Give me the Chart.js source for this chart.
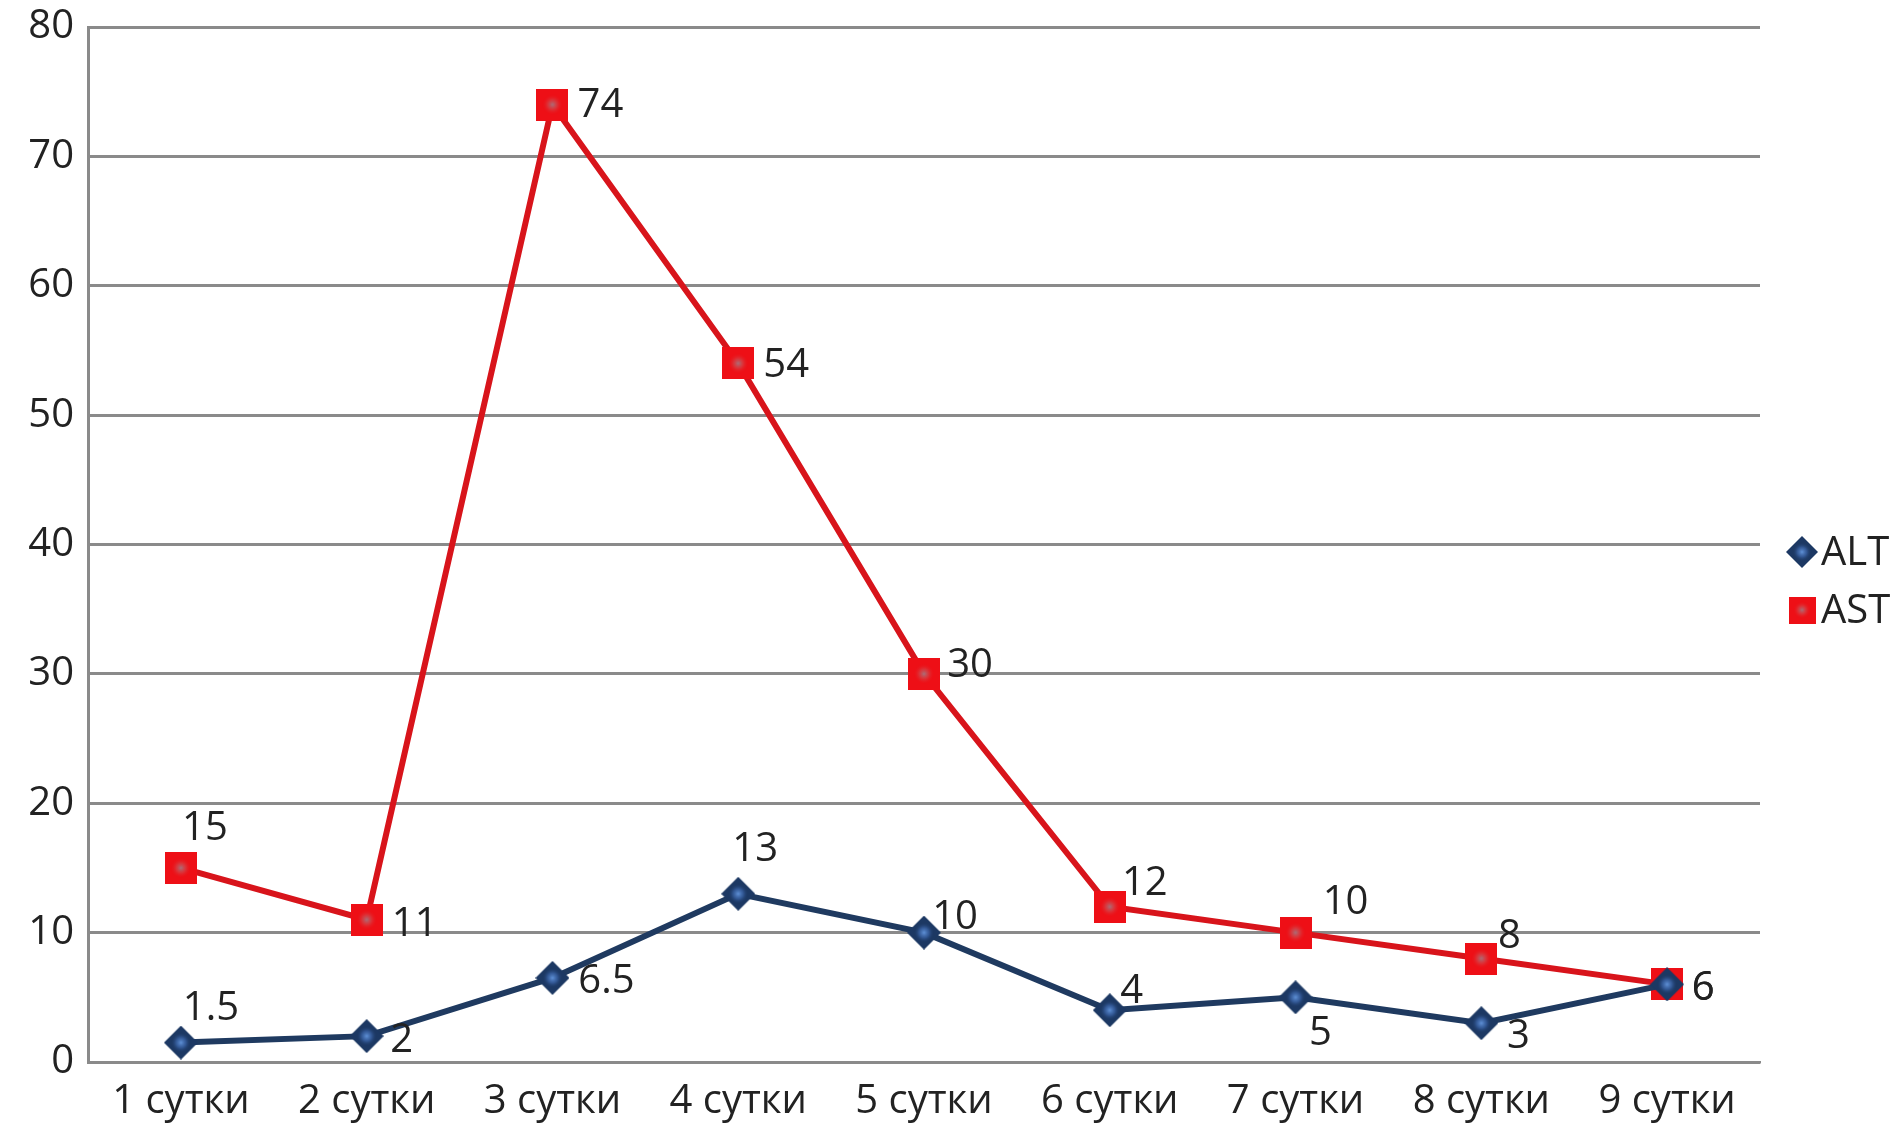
<!DOCTYPE html>
<html>
<head>
<meta charset="utf-8">
<script src="https://cdn.jsdelivr.net/npm/chart.js@4.4.1/dist/chart.umd.min.js"></script>
<style>
  html, body { margin: 0; padding: 0; background: #ffffff; }
  #wrap { width: 1897px; height: 1128px; position: relative; }
</style>
</head>
<body>
<div id="wrap"><canvas id="chart" width="1897" height="1128"></canvas></div>
<script>
// Days of observation
const categories = ['1 сутки', '2 сутки', '3 сутки', '4 сутки', '5 сутки', '6 сутки', '7 сутки', '8 сутки', '9 сутки'];
// Enzyme activity per day
const altValues = [1.5, 2, 6.5, 13, 10, 4, 5, 3, 6];
const astValues = [15, 11, 74, 54, 30, 12, 10, 8, 6];
const yTicks = [0, 10, 20, 30, 40, 50, 60, 70, 80];

// Where each value label sits relative to its point (pixels)
const altLabelOffsets = [[30, -34], [35, 4], [54, 4], [17, -44], [31, -15], [22, -19], [25, 36], [37, 13], [36, 4]];
const astLabelOffsets = [[24, -39], [48, 5], [48, 1], [48, 2], [46, -8], [35, -23], [50, -30], [28, -22], [36, 4]];

const FONT = '"Open Sans", "DejaVu Sans", sans-serif';
const FONT_SIZE = 40;
const TEXT = '#222222';
const GRID = '#8a8a8a';

function makeSquare(size) {
  const c = document.createElement('canvas');
  c.width = size; c.height = size;
  const g = c.getContext('2d');
  g.fillStyle = '#ee0f16';
  g.fillRect(0, 0, size, size);
  const grad = g.createRadialGradient(size / 2, size / 2, 0, size / 2, size / 2, size * 0.33);
  grad.addColorStop(0, 'rgba(170,110,120,1)');
  grad.addColorStop(0.45, 'rgba(215,60,65,0.8)');
  grad.addColorStop(1, 'rgba(238,15,22,0)');
  g.fillStyle = grad;
  g.fillRect(0, 0, size, size);
  return c;
}

function makeDiamond(size) {
  const c = document.createElement('canvas');
  c.width = size; c.height = size;
  const g = c.getContext('2d');
  const h = size / 2;
  g.beginPath();
  g.moveTo(h, 0); g.lineTo(size, h); g.lineTo(h, size); g.lineTo(0, h); g.closePath();
  g.fillStyle = '#1c3863';
  g.fill();
  const grad = g.createRadialGradient(h, h, 0, h, h, size * 0.3);
  grad.addColorStop(0, 'rgba(95,145,215,1)');
  grad.addColorStop(0.5, 'rgba(55,95,160,0.8)');
  grad.addColorStop(1, 'rgba(28,56,99,0)');
  g.fillStyle = grad;
  g.fill();
  return c;
}

const altMarker = makeDiamond(34);
const astMarker = makeSquare(32);
const altLegendMarker = makeDiamond(32);
const astLegendMarker = makeSquare(27);

// Value labels next to each point
const valueLabels = {
  id: 'valueLabels',
  afterDatasetsDraw(chart) {
    const ctx = chart.ctx;
    ctx.save();
    ctx.font = FONT_SIZE + 'px ' + FONT;
    ctx.fillStyle = TEXT;
    ctx.textAlign = 'center';
    ctx.textBaseline = 'middle';
    const offsets = [altLabelOffsets, astLabelOffsets];
    chart.data.datasets.forEach((ds, di) => {
      const meta = chart.getDatasetMeta(di);
      meta.data.forEach((pt, i) => {
        const [dx, dy] = offsets[di][i];
        ctx.fillText(String(ds.data[i]), pt.x + dx, pt.y + dy);
      });
    });
    ctx.restore();
  }
};

// Legend on the right side of the plot
const sideLegend = {
  id: 'sideLegend',
  afterDraw(chart) {
    const ctx = chart.ctx;
    const area = chart.chartArea;
    ctx.save();
    ctx.font = FONT_SIZE + 'px ' + FONT;
    ctx.fillStyle = TEXT;
    ctx.textAlign = 'left';
    ctx.textBaseline = 'middle';
    const items = [
      { label: chart.data.datasets[0].label, img: altLegendMarker, y: 552 },
      { label: chart.data.datasets[1].label, img: astLegendMarker, y: 610 }
    ];
    const mx = area.right + 42;
    items.forEach(it => {
      ctx.drawImage(it.img, mx - it.img.width / 2, it.y - it.img.height / 2);
      ctx.fillText(it.label, mx + 19, it.y + 2);
    });
    ctx.restore();
  }
};

new Chart(document.getElementById('chart'), {
  type: 'line',
  data: {
    labels: categories,
    datasets: [
      {
        label: 'ALT',
        data: altValues,
        borderColor: '#1f3a60',
        backgroundColor: '#1f3a60',
        borderWidth: 6,
        pointStyle: altMarker,
        pointRadius: 17,
        tension: 0,
        fill: false
      },
      {
        label: 'AST',
        data: astValues,
        borderColor: '#d8141b',
        backgroundColor: '#d8141b',
        borderWidth: 6,
        pointStyle: astMarker,
        pointRadius: 16,
        tension: 0,
        fill: false
      }
    ]
  },
  options: {
    responsive: false,
    animation: false,
    layout: { padding: { top: 27, right: 137, left: 0, bottom: 0 } },
    plugins: {
      legend: { display: false },
      tooltip: { enabled: false },
      title: { display: false }
    },
    scales: {
      x: {
        offset: true,
        grid: { display: false, drawTicks: false },
        border: { display: true, color: GRID, width: 2.5 },
        ticks: {
          font: { family: FONT, size: FONT_SIZE },
          color: TEXT,
          padding: 16,
          maxRotation: 0,
          autoSkip: false
        },
        afterFit(scale) { scale.height = 66; }
      },
      y: {
        min: 0,
        max: 80,
        afterBuildTicks(scale) { scale.ticks = yTicks.map(v => ({ value: v })); },
        grid: { color: GRID, lineWidth: 3, drawTicks: false },
        border: { display: true, color: GRID, width: 3 },
        ticks: {
          font: { family: FONT, size: FONT_SIZE, lineHeight: 0.5 },
          color: TEXT,
          padding: 14
        },
        afterFit(scale) { scale.width = 88; }
      }
    }
  },
  plugins: [valueLabels, sideLegend]
});
</script>
</body>
</html>
